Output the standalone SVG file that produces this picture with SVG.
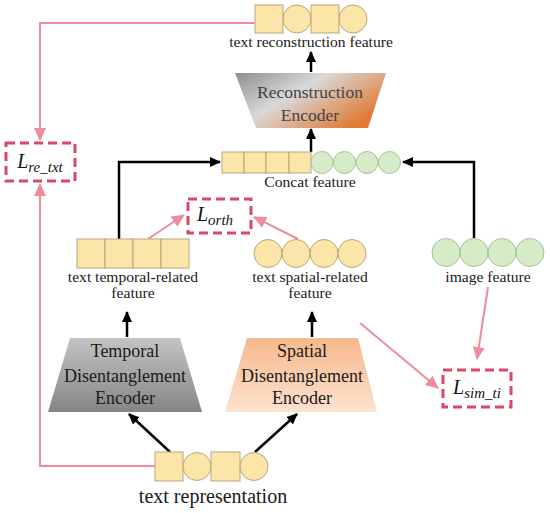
<svg xmlns="http://www.w3.org/2000/svg" width="550" height="513" viewBox="0 0 550 513">
<style>
.t{font-family:"Liberation Serif","Times New Roman",serif;fill:#1a1a1a;text-anchor:middle}
.s{font-size:15.6px}
.e{font-size:18px}
.y{fill:#fce5a8;stroke:#b9a67a;stroke-width:1}
.g{fill:#d6ecc9;stroke:#a6c297;stroke-width:1}
.blk{fill:none;stroke:#000;stroke-width:2.5}
.pk{fill:none;stroke:#ee8c9c;stroke-width:2}
.box{fill:#fff;stroke:#dc4767;stroke-width:3;stroke-dasharray:9 5}
.m{font-family:"Liberation Serif","DejaVu Serif",serif;font-style:italic;fill:#111;text-anchor:middle;font-size:20px}
.sub{font-size:15px}
</style>
<defs>
<marker id="ab" markerUnits="userSpaceOnUse" markerWidth="12" markerHeight="12" refX="10" refY="6" orient="auto"><path d="M0,1 L11,6 L0,11 z" fill="#000"/></marker>
<marker id="ap" markerUnits="userSpaceOnUse" markerWidth="14" markerHeight="14" refX="12" refY="7" orient="auto"><path d="M0,1 L13,7 L0,13 z" fill="#ee8c9c"/></marker>
<linearGradient id="gt" x1="0" y1="0" x2="0" y2="1"><stop offset="0" stop-color="#c4c4c4"/><stop offset="1" stop-color="#858585"/></linearGradient>
<linearGradient id="gs" x1="0" y1="0" x2="0" y2="1"><stop offset="0" stop-color="#f6b88c"/><stop offset="1" stop-color="#fde2cf"/></linearGradient>
<linearGradient id="gr" x1="0" y1="0" x2="1" y2="0.6"><stop offset="0" stop-color="#8e8e8e"/><stop offset="0.45" stop-color="#d9d9d9"/><stop offset="1" stop-color="#e07a35"/></linearGradient>
</defs>

<g id="connectors">
<path class="blk" d="M119,239 V162 H220" marker-end="url(#ab)"/>
<path class="blk" d="M474,238 V162 H403" marker-end="url(#ab)"/>
<path class="blk" d="M311,152 V129" marker-end="url(#ab)"/>
<path class="blk" d="M311,72 V52" marker-end="url(#ab)"/>
<path class="blk" d="M127,337 V312" marker-end="url(#ab)"/>
<path class="blk" d="M312,337 V312" marker-end="url(#ab)"/>
<path class="blk" d="M170,452 L129,414" marker-end="url(#ab)"/>
<path class="blk" d="M255,452 L297,414" marker-end="url(#ab)"/>
<path class="pk" d="M255,23 H40 V140" marker-end="url(#ap)"/>
<path class="pk" d="M155,466 H40 V184" marker-end="url(#ap)"/>
<path class="pk" d="M148,239 L184,215" marker-end="url(#ap)"/>
<path class="pk" d="M298,239 L254,217" marker-end="url(#ap)"/>
<path class="pk" d="M360,323 L438,388" marker-end="url(#ap)"/>
<path class="pk" d="M488,287 L477,359" marker-end="url(#ap)"/>
</g>

<g id="text-reconstruction-feature">
<rect class="y" x="255" y="5" width="28" height="28"/>
<circle class="y" cx="297" cy="19" r="14"/>
<rect class="y" x="311" y="5" width="28" height="28"/>
<circle class="y" cx="353" cy="19" r="14"/>
<text class="t s" x="311" y="47">text reconstruction feature</text>
</g>

<g id="reconstruction-encoder">
<path d="M235,73 H386 L368,128 H256 z" fill="url(#gr)"/>
<text class="t" x="310" y="98" font-size="17.5" style="fill:#444">Reconstruction</text>
<text class="t" x="310" y="121" font-size="17.5" style="fill:#444">Encoder</text>
</g>

<g id="concat-feature">
<rect class="y" x="222" y="152" width="22" height="21"/>
<rect class="y" x="244" y="152" width="22" height="21"/>
<rect class="y" x="266" y="152" width="23" height="21"/>
<rect class="y" x="289" y="152" width="22" height="21"/>
<circle class="g" cx="322" cy="162.5" r="11"/>
<circle class="g" cx="344.5" cy="162.5" r="11"/>
<circle class="g" cx="367" cy="162.5" r="11"/>
<circle class="g" cx="389.5" cy="162.5" r="11"/>
<text class="t s" x="310" y="187">Concat feature</text>
</g>

<g id="l-re-txt">
<rect class="box" x="6" y="143" width="69" height="38"/>
<text class="m" x="40" y="168">L<tspan class="sub" dy="4">re_txt</tspan></text>
</g>

<g id="l-orth">
<rect class="box" x="188" y="199" width="63" height="34"/>
<text class="m" x="215" y="221">L<tspan class="sub" dy="4">orth</tspan></text>
</g>

<g id="l-sim-ti">
<rect class="box" x="443" y="370" width="68" height="37"/>
<text class="m" x="477" y="394">L<tspan class="sub" dy="4">sim_ti</tspan></text>
</g>

<g id="text-temporal-feature">
<rect class="y" x="77" y="239" width="28" height="29"/>
<rect class="y" x="105" y="239" width="28" height="29"/>
<rect class="y" x="133" y="239" width="28" height="29"/>
<rect class="y" x="161" y="239" width="28" height="29"/>
<text class="t s" x="133" y="282">text temporal-related</text>
<text class="t s" x="133" y="298">feature</text>
</g>

<g id="text-spatial-feature">
<circle class="y" cx="268" cy="253.5" r="14"/>
<circle class="y" cx="296" cy="253.5" r="14"/>
<circle class="y" cx="324" cy="253.5" r="14"/>
<circle class="y" cx="352" cy="253.5" r="14"/>
<text class="t s" x="310" y="282">text spatial-related</text>
<text class="t s" x="310" y="298">feature</text>
</g>

<g id="image-feature">
<circle class="g" cx="446" cy="252.5" r="14"/>
<circle class="g" cx="474" cy="252.5" r="14"/>
<circle class="g" cx="502" cy="252.5" r="14"/>
<circle class="g" cx="530" cy="252.5" r="14"/>
<text class="t s" x="488" y="282">image feature</text>
</g>

<g id="temporal-encoder">
<path d="M70,338 H180 L202,412 H48 z" fill="url(#gt)"/>
<text class="t e" x="125" y="357">Temporal</text>
<text class="t e" x="125" y="382">Disentanglement</text>
<text class="t e" x="125" y="404">Encoder</text>
</g>

<g id="spatial-encoder">
<path d="M247,338 H358 L377,412 H225 z" fill="url(#gs)"/>
<text class="t e" x="302" y="357">Spatial</text>
<text class="t e" x="302" y="382">Disentanglement</text>
<text class="t e" x="302" y="404">Encoder</text>
</g>

<g id="text-representation">
<rect class="y" x="155" y="452" width="28" height="29"/>
<circle class="y" cx="197" cy="466.5" r="14"/>
<rect class="y" x="211" y="452" width="29" height="29"/>
<circle class="y" cx="254" cy="466.5" r="14"/>
<text class="t" x="213" y="503" font-size="20">text representation</text>
</g>
</svg>
